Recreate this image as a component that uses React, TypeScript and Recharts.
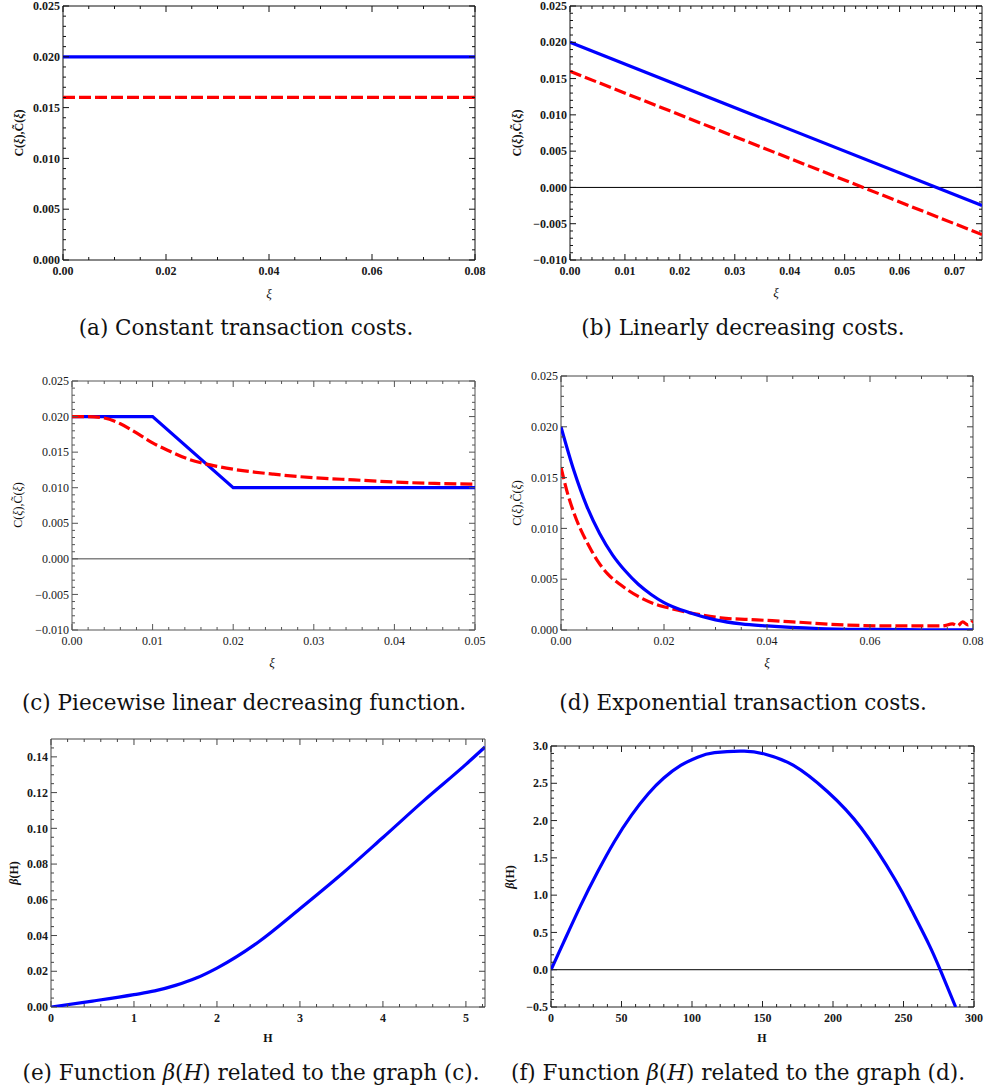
import React from 'react';
import { LineChart, Line, XAxis, YAxis, ReferenceLine, ReferenceArea } from 'recharts';

const SERIF = '"Liberation Serif", "Times New Roman", serif';
const CAPTION_FONT = '"DejaVu Serif", serif';
const BLUE = '#0000ff';
const RED = '#ff0000';

// (a) constant transaction costs
const aXi = [0, 0.08];
const aCost = [0.02, 0.02];
const aCostTilde = [0.016, 0.016];

// (b) linearly decreasing costs
const bXi = [0, 0.075];
const bCost = [0.02, -0.0025];
const bCostTilde = [0.016, -0.0065];

// (c) piecewise linear decreasing function
const cXiBlue = [0, 0.01, 0.02, 0.05];
const cCost = [0.02, 0.02, 0.01, 0.01];
const cXiRed = [0, 0.002, 0.004, 0.006, 0.008, 0.01, 0.012, 0.014, 0.016, 0.018, 0.02, 0.025, 0.03, 0.035, 0.04, 0.045, 0.05];
const cCostTilde = [0.02, 0.02, 0.0198, 0.019, 0.0177, 0.0163, 0.0152, 0.0142, 0.0135, 0.013, 0.0126, 0.0119, 0.0114, 0.0111, 0.0108, 0.0106, 0.0105];

// (d) exponential transaction costs
const dXiBlue = [0, 0.0025, 0.005, 0.0075, 0.01, 0.0125, 0.015, 0.0175, 0.02, 0.025, 0.03, 0.035, 0.04, 0.05, 0.06, 0.07, 0.08];
const dCost = [0.02, 0.0157, 0.0122, 0.0095, 0.0074, 0.0058, 0.0045, 0.0035, 0.0027, 0.0017, 0.001, 0.0006, 0.0004, 0.00015, 0.00006, 0.00002, 0.00001];
const dXiRed = [0, 0.0013, 0.0026, 0.0039, 0.0052, 0.0071, 0.0091, 0.0117, 0.015, 0.018, 0.0215, 0.025, 0.031, 0.038, 0.045, 0.055, 0.065, 0.074, 0.076, 0.077, 0.078, 0.079, 0.08];
const dCostTilde = [0.016, 0.0134, 0.0114, 0.0098, 0.0085, 0.0068, 0.0055, 0.0044, 0.0033, 0.0026, 0.0021, 0.0017, 0.0012, 0.001, 0.0008, 0.0005, 0.0004, 0.0004, 0.0006, 0.0004, 0.0008, 0.0005, 0.0009];

// (e) beta(H) for graph (c)
const eH = [0, 0.5, 1, 1.25, 1.5, 1.75, 2, 2.5, 3, 3.5, 4, 4.5, 5, 5.23];
const eBeta = [0, 0.0033, 0.0069, 0.009, 0.0121, 0.0162, 0.0218, 0.0364, 0.055, 0.0743, 0.0949, 0.1158, 0.1358, 0.1455];

// (f) beta(H) for graph (d)
const fH = [0, 9, 21, 33, 45, 57, 69, 80, 92, 104, 116, 137, 152, 172, 196, 220, 244, 256, 268, 276, 287];
const fBeta = [0, 0.37, 0.86, 1.31, 1.72, 2.07, 2.36, 2.57, 2.74, 2.85, 2.91, 2.93, 2.89, 2.74, 2.39, 1.9, 1.21, 0.79, 0.34, 0, -0.5];

// tick positions
const aXTicks = [0, 0.02, 0.04, 0.06, 0.08];
const aYTicks = [0, 0.005, 0.01, 0.015, 0.02, 0.025];
const bXTicks = [0, 0.01, 0.02, 0.03, 0.04, 0.05, 0.06, 0.07];
const bYTicks = [-0.01, -0.005, 0, 0.005, 0.01, 0.015, 0.02, 0.025];
const cXTicks = [0, 0.01, 0.02, 0.03, 0.04, 0.05];
const cYTicks = [-0.01, -0.005, 0, 0.005, 0.01, 0.015, 0.02, 0.025];
const dXTicks = [0, 0.02, 0.04, 0.06, 0.08];
const dYTicks = [0, 0.005, 0.01, 0.015, 0.02, 0.025];
const eXTicks = [0, 1, 2, 3, 4, 5];
const eYTicks = [0, 0.02, 0.04, 0.06, 0.08, 0.1, 0.12, 0.14];
const fXTicks = [0, 50, 100, 150, 200, 250, 300];
const fYTicks = [-0.5, 0, 0.5, 1, 1.5, 2, 2.5, 3];

type Pt = { x: number; y: number };
const toPoints = (xs: number[], ys: number[]): Pt[] => xs.map((x, i) => ({ x, y: ys[i] }));

const r6 = (v: number) => Math.round(v * 1e6) / 1e6;
const steps = (from: number, to: number, step: number) => {
  const n = Math.round((to - from) / step);
  const out: number[] = [];
  for (let i = 0; i <= n; i++) out.push(r6(from + i * step));
  return out;
};
const merge = (major: number[], minor: number[]) =>
  Array.from(new Set([...major.map(r6), ...minor])).sort((a, b) => a - b);
const isMajor = (major: number[], v: number) => major.some((m) => Math.abs(m - v) < 1e-9);

const fmt = (digits: number) => (v: number) =>
  (v < -1e-9 ? '\u2212' : '') + Math.abs(v).toFixed(digits);

const X_AXIS_H = 25;
const X_MARGIN = 6;
const Y_MARGIN = 3;

type PanelProps = {
  left: number;
  top: number;
  width: number;
  height: number;
  marginTop: number;
  marginRight: number;
  yAxisWidth: number;
  xDomain: [number, number];
  yDomain: [number, number];
  xTicks: number[];
  yTicks: number[];
  xMinor: number[];
  yMinor: number[];
  xFormat: (v: number) => string;
  yFormat: (v: number) => string;
  bold: boolean;
  frameColor: string;
  zeroLine?: string;
  children?: React.ReactNode;
};

function Panel(p: PanelProps) {
  const plotW = p.width - p.marginRight - p.yAxisWidth;
  const plotH = p.height - p.marginTop - X_AXIS_H;
  const textProps = {
    fontSize: 12,
    fontFamily: SERIF,
    fontWeight: p.bold ? 700 : 400,
    fill: '#1a1a1a',
  };

  // bottom labels plus inward ticks on bottom and top edges
  const xTick = (props: any) => {
    const { x, y, payload } = props;
    const v = payload.value as number;
    const major = isMajor(p.xTicks, v);
    const len = major ? 6 : 3;
    const bottom = y - X_MARGIN;
    const top = bottom - plotH;
    return (
      <g>
        <line x1={x} x2={x} y1={bottom} y2={bottom - len} stroke={p.frameColor} strokeWidth={1} />
        <line x1={x} x2={x} y1={top} y2={top + len} stroke={p.frameColor} strokeWidth={1} />
        {major && (
          <text x={x} y={y} dy="0.71em" textAnchor="middle" {...textProps}>
            {p.xFormat(v)}
          </text>
        )}
      </g>
    );
  };

  // left labels plus inward ticks on left and right edges
  const yTick = (props: any) => {
    const { x, y, payload } = props;
    const v = payload.value as number;
    const major = isMajor(p.yTicks, v);
    const len = major ? 6 : 3;
    const left = x + Y_MARGIN;
    const right = left + plotW;
    return (
      <g>
        <line x1={left} x2={left + len} y1={y} y2={y} stroke={p.frameColor} strokeWidth={1} />
        <line x1={right} x2={right - len} y1={y} y2={y} stroke={p.frameColor} strokeWidth={1} />
        {major && (
          <text x={x} y={y} dy="0.35em" textAnchor="end" {...textProps}>
            {p.yFormat(v)}
          </text>
        )}
      </g>
    );
  };

  return (
    <div style={{ position: 'absolute', left: p.left, top: p.top }}>
      <LineChart
        width={p.width}
        height={p.height}
        margin={{ top: p.marginTop, right: p.marginRight, bottom: 0, left: 0 }}
      >
        <XAxis
          xAxisId="x"
          dataKey="x"
          type="number"
          domain={p.xDomain}
          ticks={merge(p.xTicks, p.xMinor)}
          interval={0}
          allowDataOverflow
          height={X_AXIS_H}
          tickSize={0}
          tickMargin={X_MARGIN}
          axisLine={false}
          tickLine={false}
          tick={xTick}
        />
        <YAxis
          yAxisId="y"
          dataKey="y"
          type="number"
          domain={p.yDomain}
          ticks={merge(p.yTicks, p.yMinor)}
          interval={0}
          allowDataOverflow
          width={p.yAxisWidth}
          tickSize={0}
          tickMargin={Y_MARGIN}
          axisLine={false}
          tickLine={false}
          tick={yTick}
        />
        <ReferenceArea
          xAxisId="x"
          yAxisId="y"
          x1={p.xDomain[0]}
          x2={p.xDomain[1]}
          y1={p.yDomain[0]}
          y2={p.yDomain[1]}
          fill="none"
          fillOpacity={0}
          stroke={p.frameColor}
          strokeWidth={1}
        />
        {p.zeroLine && (
          <ReferenceLine xAxisId="x" yAxisId="y" y={0} stroke={p.zeroLine} strokeWidth={1} />
        )}
        {p.children}
      </LineChart>
    </div>
  );
}

const solid = (pts: Pt[], type: 'linear' | 'monotone' | 'natural' = 'linear') => (
  <Line
    xAxisId="x"
    yAxisId="y"
    data={pts}
    dataKey="y"
    type={type}
    stroke={BLUE}
    strokeWidth={3.2}
    dot={false}
    activeDot={false}
    isAnimationActive={false}
  />
);

const dashed = (pts: Pt[], type: 'linear' | 'monotone' | 'natural' = 'linear') => (
  <Line
    xAxisId="x"
    yAxisId="y"
    data={pts}
    dataKey="y"
    type={type}
    stroke={RED}
    strokeWidth={3.2}
    strokeDasharray="12 4"
    dot={false}
    activeDot={false}
    isAnimationActive={false}
  />
);

function TextAt({ x, y, rotate, size, bold, italic, font, children }: {
  x: number; y: number; rotate?: boolean; size: number; bold?: boolean; italic?: boolean; font?: string; children: React.ReactNode;
}) {
  return (
    <div
      style={{
        position: 'absolute',
        left: x,
        top: y,
        transform: `translate(-50%, -50%)${rotate ? ' rotate(-90deg)' : ''}`,
        whiteSpace: 'nowrap',
        fontFamily: font || SERIF,
        fontSize: size,
        fontWeight: bold ? 700 : 400,
        fontStyle: italic ? 'italic' : 'normal',
        color: '#111',
        lineHeight: 1,
      }}
    >
      {children}
    </div>
  );
}

const costLabel = (
  <span>
    C(<i>ξ</i>),C̃(<i>ξ</i>)
  </span>
);

export default function App() {
  return (
    <div style={{ position: 'absolute', left: 0, top: 0, width: 988, height: 1092, background: '#fff' }}>
      <Panel
        left={0} top={0} width={494} height={285}
        marginTop={6} marginRight={19} yAxisWidth={63}
        xDomain={[0, 0.08]} yDomain={[0, 0.025]}
        xTicks={aXTicks} yTicks={aYTicks}
        xMinor={steps(0, 0.08, 0.005)} yMinor={steps(0, 0.025, 0.001)}
        xFormat={fmt(2)} yFormat={fmt(3)} bold frameColor="#111"
      >
        {solid(toPoints(aXi, aCost))}
        {dashed(toPoints(aXi, aCostTilde))}
      </Panel>
      <Panel
        left={494} top={0} width={494} height={285}
        marginTop={6} marginRight={6} yAxisWidth={76}
        xDomain={[0, 0.075]} yDomain={[-0.01, 0.025]}
        xTicks={bXTicks} yTicks={bYTicks}
        xMinor={steps(0, 0.074, 0.002)} yMinor={steps(-0.01, 0.025, 0.001)}
        xFormat={fmt(2)} yFormat={fmt(3)} bold frameColor="#111" zeroLine="#000"
      >
        {solid(toPoints(bXi, bCost))}
        {dashed(toPoints(bXi, bCostTilde))}
      </Panel>
      <Panel
        left={0} top={370} width={494} height={285}
        marginTop={11} marginRight={19} yAxisWidth={72}
        xDomain={[0, 0.05]} yDomain={[-0.01, 0.025]}
        xTicks={cXTicks} yTicks={cYTicks}
        xMinor={steps(0, 0.05, 0.002)} yMinor={steps(-0.01, 0.025, 0.001)}
        xFormat={fmt(2)} yFormat={fmt(3)} bold={false} frameColor="#555" zeroLine="#444"
      >
        {solid(toPoints(cXiBlue, cCost))}
        {dashed(toPoints(cXiRed, cCostTilde), 'monotone')}
      </Panel>
      <Panel
        left={494} top={370} width={494} height={285}
        marginTop={6} marginRight={15} yAxisWidth={67}
        xDomain={[0, 0.08]} yDomain={[0, 0.025]}
        xTicks={dXTicks} yTicks={dYTicks}
        xMinor={steps(0, 0.08, 0.005)} yMinor={steps(0, 0.025, 0.001)}
        xFormat={fmt(2)} yFormat={fmt(3)} bold={false} frameColor="#444"
      >
        {dashed(toPoints(dXiRed, dCostTilde), 'monotone')}
        {solid(toPoints(dXiBlue, dCost), 'monotone')}
      </Panel>
      <Panel
        left={0} top={730} width={494} height={302}
        marginTop={9} marginRight={9} yAxisWidth={51}
        xDomain={[0, 5.23]} yDomain={[0, 0.15]}
        xTicks={eXTicks} yTicks={eYTicks}
        xMinor={steps(0, 5.2, 0.2)} yMinor={steps(0, 0.145, 0.005)}
        xFormat={fmt(0)} yFormat={fmt(2)} bold frameColor="#444"
      >
        {solid(toPoints(eH, eBeta), 'monotone')}
      </Panel>
      <Panel
        left={494} top={730} width={494} height={302}
        marginTop={16} marginRight={14} yAxisWidth={57}
        xDomain={[0, 300]} yDomain={[-0.5, 3]}
        xTicks={fXTicks} yTicks={fYTicks}
        xMinor={steps(0, 300, 10)} yMinor={steps(-0.5, 3, 0.1)}
        xFormat={fmt(0)} yFormat={fmt(1)} bold frameColor="#222" zeroLine="#000"
      >
        {solid(toPoints(fH, fBeta), 'natural')}
      </Panel>

      {/* axis titles */}
      <TextAt x={269} y={293} size={13} italic>ξ</TextAt>
      <TextAt x={776} y={292} size={13} italic>ξ</TextAt>
      <TextAt x={272} y={662} size={13} italic>ξ</TextAt>
      <TextAt x={767} y={662} size={13} italic>ξ</TextAt>
      <TextAt x={268} y={1038} size={12} bold>H</TextAt>
      <TextAt x={762} y={1038} size={12} bold>H</TextAt>

      <TextAt x={19} y={133} size={12} bold rotate>{costLabel}</TextAt>
      <TextAt x={517} y={133} size={12} bold rotate>{costLabel}</TextAt>
      <TextAt x={18} y={505} size={12} rotate>{costLabel}</TextAt>
      <TextAt x={517} y={503} size={12} rotate>{costLabel}</TextAt>
      <TextAt x={14} y={873} size={12} bold rotate><span><i>β</i>(H)</span></TextAt>
      <TextAt x={510} y={877} size={12} bold rotate><span><i>β</i>(H)</span></TextAt>

      {/* captions */}
      <TextAt x={246} y={328} size={21.5} font={CAPTION_FONT}>(a) Constant transaction costs.</TextAt>
      <TextAt x={743} y={328} size={21.5} font={CAPTION_FONT}>(b) Linearly decreasing costs.</TextAt>
      <TextAt x={244} y={703} size={21.5} font={CAPTION_FONT}>(c) Piecewise linear decreasing function.</TextAt>
      <TextAt x={743} y={703} size={21.5} font={CAPTION_FONT}>(d) Exponential transaction costs.</TextAt>
      <TextAt x={251} y={1073} size={21.5} font={CAPTION_FONT}>
        (e) Function <i>β</i>(<i>H</i>) related to the graph (c).
      </TextAt>
      <TextAt x={738} y={1073} size={21.5} font={CAPTION_FONT}>
        (f) Function <i>β</i>(<i>H</i>) related to the graph (d).
      </TextAt>
    </div>
  );
}
